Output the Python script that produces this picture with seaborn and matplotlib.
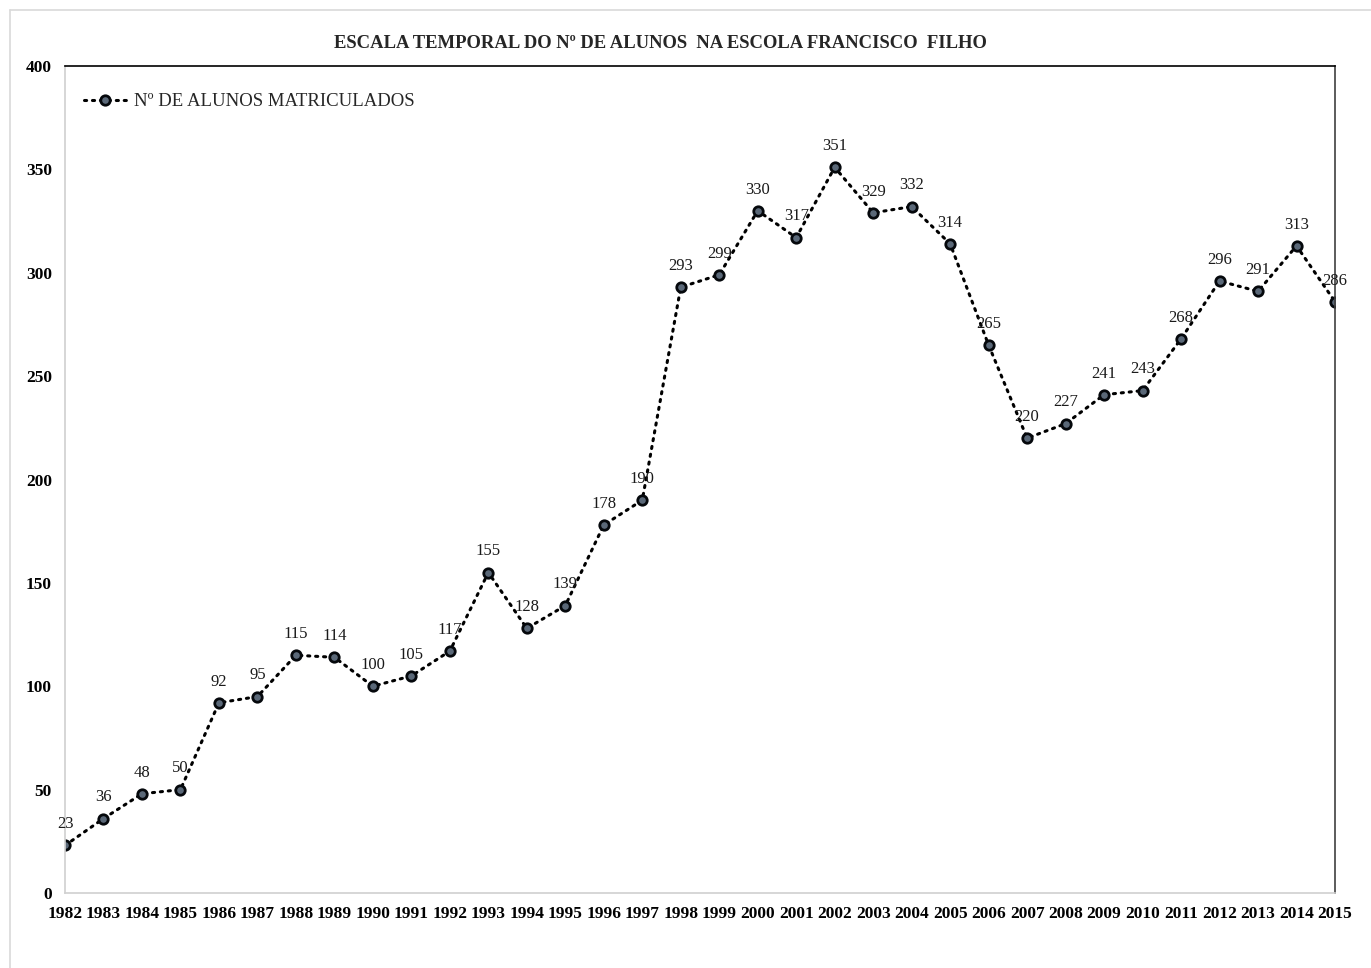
import matplotlib
matplotlib.use("Agg")
import matplotlib.pyplot as plt
import seaborn as sns
import pandas as pd
from matplotlib.lines import Line2D

years = list(range(1982, 2016))
alunos = [23, 36, 48, 50, 92, 95, 115, 114, 100, 105, 117, 155, 128, 139, 178, 190,
          293, 299, 330, 317, 351, 329, 332, 314, 265, 220, 227, 241, 243, 268, 296, 291, 313, 286]
title = "ESCALA TEMPORAL DO Nº DE ALUNOS  NA ESCOLA FRANCISCO  FILHO"
series_label = "Nº DE ALUNOS MATRICULADOS"
yticks = [0, 50, 100, 150, 200, 250, 300, 350, 400]

df = pd.DataFrame({"ano": years, "alunos": alunos})

sns.set_theme(style="white")
plt.rcParams["font.family"] = ["Liberation Serif", "DejaVu Serif"]

fig = plt.figure(figsize=(13.71, 9.68), dpi=100)
ax = fig.add_axes([65/1371, 75/968, 1270/1371, 827/968])

line_style = dict(color="black", linestyle=(0, (0.7, 1.9)), linewidth=2.2,
                  dash_capstyle="round", marker="o", markersize=6.8,
                  markerfacecolor="#5a6878", markeredgecolor="#05080c",
                  markeredgewidth=2.0)

sns.lineplot(data=df, x="ano", y="alunos", ax=ax, legend=False, **line_style)

for x, y in zip(years, alunos):
    ax.annotate(str(y), (x, y), xytext=(0, 9.5), textcoords="offset points",
                ha="center", va="bottom", fontsize=12, color="#1a1a1a")

ax.set_xlim(1982, 2015)
ax.set_ylim(0, 400)
ax.set_xticks(years)
ax.set_xticklabels([str(y) for y in years], fontsize=12.5, fontweight="bold")
ax.set_yticks(yticks)
ax.set_yticklabels([str(v) for v in yticks], fontsize=12.5, fontweight="bold")
ax.tick_params(axis="both", length=0, colors="black")
ax.tick_params(axis="x", pad=9)
ax.tick_params(axis="y", pad=9.5)
ax.set_xlabel("")
ax.set_ylabel("")

ax.spines["top"].set_color("black")
ax.spines["right"].set_color("#404040")
ax.spines["left"].set_color("#d0d0d0")
ax.spines["bottom"].set_color("#d0d0d0")
for s in ax.spines.values():
    s.set_linewidth(1.2)

handle = Line2D([], [], **line_style)
ax.legend([handle], [series_label], loc="upper left", frameon=False,
          prop={"size": 13.5}, handlelength=2.3, handletextpad=0.4,
          bbox_to_anchor=(0.0, 0.99), borderaxespad=0.6)

fig.text(660/1371, 1 - 43/968, title, ha="center", va="center",
         fontsize=13.4, fontweight="bold")

# outer chart frame
fig.add_artist(Line2D([10/1371, 1.0], [1 - 10/968, 1 - 10/968], color="#d9d9d9",
                      linewidth=1.2, transform=fig.transFigure))
fig.add_artist(Line2D([10/1371, 10/1371], [0.0, 1 - 10/968], color="#d9d9d9",
                      linewidth=1.2, transform=fig.transFigure))

fig.savefig("out.png", dpi=100)
